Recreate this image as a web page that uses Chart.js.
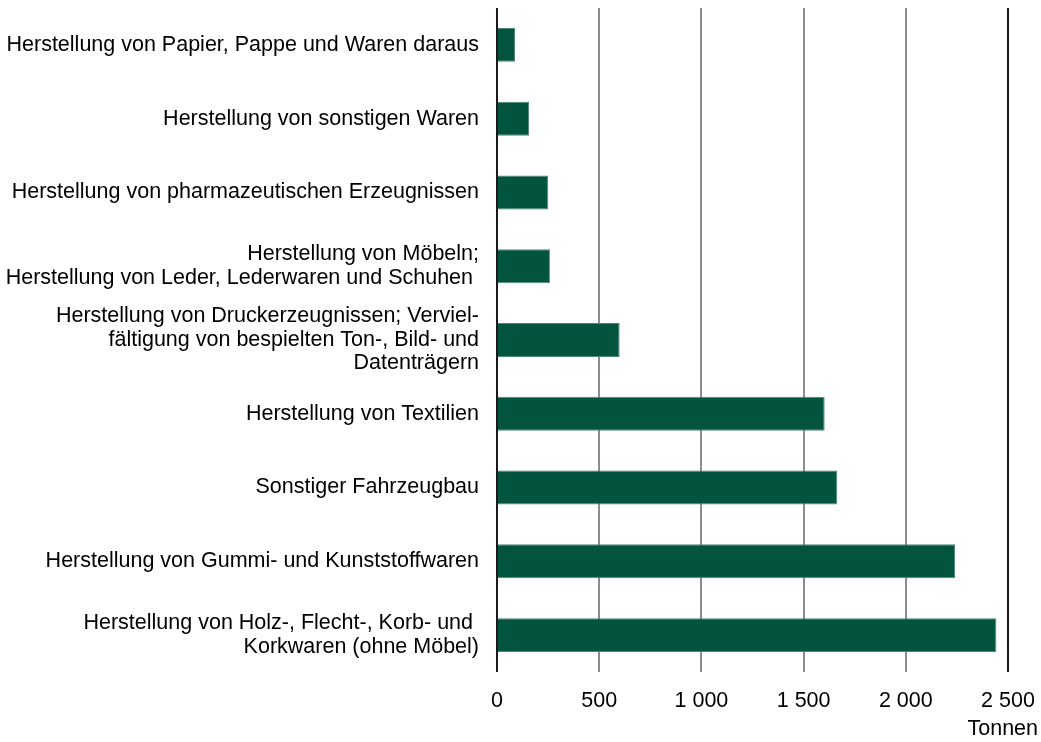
<!DOCTYPE html>
<html>
<head>
<meta charset="utf-8">
<script src="https://cdn.jsdelivr.net/npm/chart.js@4"></script>
<style>
html,body{margin:0;padding:0;background:#fff;}
#wrap{position:relative;width:1041px;height:742px;}
</style>
</head>
<body>
<div id="wrap"><canvas id="c" width="1041" height="742"></canvas></div>
<script>
const categories = [
  "Herstellung von Papier, Pappe und Waren daraus",
  "Herstellung von sonstigen Waren",
  "Herstellung von pharmazeutischen Erzeugnissen",
  ["Herstellung von Möbeln;", "Herstellung von Leder, Lederwaren und Schuhen "],
  ["Herstellung von Druckerzeugnissen; Verviel-", "fältigung von bespielten Ton-, Bild- und", "Datenträgern"],
  "Herstellung von Textilien",
  "Sonstiger Fahrzeugbau",
  "Herstellung von Gummi- und Kunststoffwaren",
  ["Herstellung von Holz-, Flecht-, Korb- und ", "Korkwaren (ohne Möbel)"]
];
const values = [88, 157, 251, 259, 600, 1603, 1665, 2241, 2443];
const xTicks = [0, 500, 1000, 1500, 2000, 2500];
const unitLabel = "Tonnen";

const FONT = "'Liberation Sans', Arial, sans-serif";

const unitPlugin = {
  id: 'unitLabel',
  afterDraw(chart) {
    const ctx = chart.ctx;
    ctx.save();
    ctx.font = "21.5px " + FONT;
    ctx.fillStyle = "#000";
    ctx.textAlign = "right";
    ctx.textBaseline = "alphabetic";
    ctx.fillText(unitLabel, 1038, 735);
    ctx.restore();
  }
};

new Chart(document.getElementById('c'), {
  type: 'bar',
  data: {
    labels: categories,
    datasets: [{
      data: values,
      backgroundColor: '#03543F',
      borderColor: '#4f8575',
      borderWidth: 1,
      borderSkipped: 'start',
      categoryPercentage: 1,
      barPercentage: 0.46
    }]
  },
  options: {
    indexAxis: 'y',
    responsive: false,
    animation: false,
    layout: { padding: { top: 8, right: 33, left: 0, bottom: 0 } },
    plugins: { legend: { display: false }, tooltip: { enabled: false } },
    scales: {
      x: {
        min: 0, max: 2500,
        afterBuildTicks(axis) { axis.ticks = xTicks.map(v => ({ value: v })); },
        afterFit(axis) { axis.height = 70; axis.paddingLeft = 0; axis.paddingRight = 0; },
        border: { display: false },
        grid: {
          drawTicks: false,
          lineWidth: 2,
          color: ctx => (ctx.tick && (ctx.tick.value === 0 || ctx.tick.value === 2500)) ? '#1a1a1a' : '#8c8c8c'
        },
        ticks: {
          padding: 16,
          color: '#000',
          font: { family: FONT, size: 21.5 },
          maxRotation: 0,
          callback: v => v.toString().replace(/\B(?=(\d{3})+(?!\d))/g, ' ')
        }
      },
      y: {
        afterFit(axis) { axis.width = 497; axis.paddingTop = 0; axis.paddingBottom = 0; },
        border: { display: false },
        grid: { display: false, drawTicks: false },
        ticks: {
          padding: 18,
          color: '#000',
          font: { family: FONT, size: 21.5, lineHeight: 1.093 },
          autoSkip: false
        }
      }
    }
  },
  plugins: [unitPlugin]
});
</script>
</body>
</html>
